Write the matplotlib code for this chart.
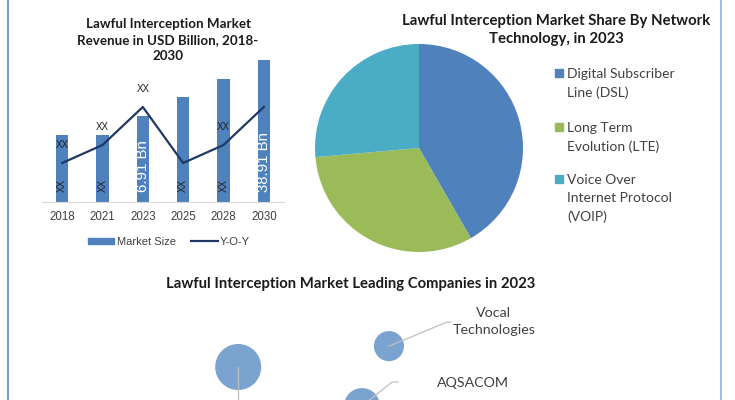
import matplotlib
matplotlib.use("Agg")
import matplotlib.pyplot as plt
from matplotlib.patches import Rectangle
from matplotlib.lines import Line2D

# ---------------- data ----------------
years = ["2018", "2021", "2023", "2025", "2028", "2030"]
market_size = [6.67, 6.67, 8.57, 10.47, 12.27, 14.17]
yoy = [3.87, 5.67, 9.47, 3.87, 5.67, 9.47]
yoy_labels = ["XX", "XX", "XX", "", "XX", ""]
bar_labels = ["XX", "XX", "6.91 Bn", "XX", "XX", "38.91 Bn"]

pie_labels = ["Digital Subscriber\nLine (DSL)", "Long Term\nEvolution (LTE)",
              "Voice Over\nInternet Protocol\n(VOIP)"]
pie_values = [41.7, 31.9, 26.4]

companies = ["", "Vocal\nTechnologies", "AQSACOM"]
bubble_x = [1.96, 5.31, 4.71]
bubble_y = [3.0, 4.9, -0.55]
bubble_size = [1100, 470, 670]

# ---------------- style ----------------
W, H = 735, 400
BAR_C = "#4F81BD"
LINE_C = "#1F3864"
PIE_C = ["#4F81BD", "#9BBB59", "#4BACC6"]
BUB_C = "#7BA3CF"
TXT = "#404040"
TITLE_FONT = ["Lato", "DejaVu Sans"]
BODY_FONT = ["Lato", "DejaVu Sans"]
ARIAL = ["Liberation Sans", "DejaVu Sans"]

fig = plt.figure(figsize=(W / 100, H / 100), dpi=100)
fig.patch.set_facecolor("white")


def px_axes(x0, y0, x1, y1):
    """axes from pixel box (top-left origin)"""
    return fig.add_axes([x0 / W, 1 - y1 / H, (x1 - x0) / W, (y1 - y0) / H])


def fx(x):
    return x / W


def fy(y):
    return 1 - y / H


# border lines
fig.add_artist(Line2D([fx(8), fx(8)], [0, 1], color="#5B8BD0", lw=1.2))
fig.add_artist(Line2D([fx(721), fx(721)], [0, 1], color="#8DB0E0", lw=1.2))

# ---------------- bar chart ----------------
ax = px_axes(42, 41.7, 284, 201.7)
xs = list(range(len(years)))
ax.bar(xs, market_size, width=0.31, color=BAR_C, zorder=2)
ax.plot(xs, yoy, color=LINE_C, lw=1.6, zorder=3)
ax.set_xlim(-0.5, 5.5)
ax.set_ylim(0, 16)
for s in ["top", "right", "left"]:
    ax.spines[s].set_visible(False)
ax.spines["bottom"].set_color("#D9D9D9")
ax.set_yticks([])
ax.set_xticks(xs)
ax.set_xticklabels(years, fontsize=8.3, color=TXT, family=ARIAL)
ax.tick_params(axis="x", length=0, pad=7)

for i, lab in enumerate(yoy_labels):
    if lab:
        ax.annotate(lab, (xs[i], yoy[i]), xytext=(0, 9), textcoords="offset points",
                    ha="center", va="bottom", fontsize=7, color="#222222",
                    family=ARIAL, zorder=4)
for i, lab in enumerate(bar_labels):
    white = lab != "XX"
    ax.annotate(lab, (xs[i], 0), xytext=(0, 7), textcoords="offset points",
                ha="center", va="bottom", rotation=90,
                fontsize=10.8 if white else 7,
                color="white" if white else "#222222", family=ARIAL, zorder=4)

fig.text(fx(168), fy(40), "Lawful Interception Market\nRevenue in USD Billion, 2018-\n2030",
         ha="center", va="center", fontsize=9.6, fontweight="bold",
         family=TITLE_FONT, color="#1a1a1a", linespacing=1.35)

leg_handles = [Rectangle((0, 0), 1, 1, color=BAR_C),
               Line2D([0], [0], color=LINE_C, lw=1.6)]
leg = fig.legend(leg_handles, ["Market Size", "Y-O-Y"], loc="center",
                 bbox_to_anchor=(fx(169), fy(242)), ncol=2, frameon=False,
                 handlelength=2.4, handleheight=0.55, handletextpad=0.2,
                 columnspacing=1.4,
                 prop={"family": ARIAL, "size": 8})
for t in leg.get_texts():
    t.set_color(TXT)

# ---------------- pie chart ----------------
R = 104
pcx, pcy = 419, 148
pax = px_axes(pcx - R, pcy - R, pcx + R, pcy + R)
pax.pie(pie_values, colors=PIE_C, startangle=90, counterclock=False,
        wedgeprops={"linewidth": 0})
pax.set_xlim(-1, 1)
pax.set_ylim(-1, 1)
pax.set_aspect("equal")

fig.text(fx(556), fy(30), "Lawful Interception Market Share By Network\nTechnology, in 2023",
         ha="center", va="center", fontsize=10.7, fontweight="bold",
         family=TITLE_FONT, color="#1a1a1a", linespacing=1.4)

leg_tops = [73, 127, 179]
for lab, col, ty in zip(pie_labels, PIE_C, leg_tops):
    fig.add_artist(Rectangle((fx(555), fy(ty + 4)), 8 / W, 8 / H, color=col,
                             transform=fig.transFigure))
    fig.text(fx(567), fy(ty - 5.5), lab, ha="left", va="top", fontsize=10.0,
             family=BODY_FONT, color=TXT, linespacing=1.62)

# ---------------- bubble chart ----------------
fig.text(fx(351), fy(284), "Lawful Interception Market Leading Companies in 2023",
         ha="center", va="center", fontsize=10.7, fontweight="bold",
         family=TITLE_FONT, color="#1a1a1a")

bax = px_axes(150, 290, 600, 400)
bax.set_xlim(0, 10)
bax.set_ylim(0, 10)
bax.axis("off")
bax.scatter(bubble_x, bubble_y, s=bubble_size, color=BUB_C, linewidths=0,
            zorder=2, clip_on=False)

# leader lines (pixel offsets converted to data units: 45 px/unit x, 11 px/unit y)
def d(px_dx, px_dy):
    return px_dx / 45.0, -px_dy / 11.0

# big bubble: vertical line going down
bax.plot([bubble_x[0], bubble_x[0]], [bubble_y[0], bubble_y[0] - 6],
         color="#BFBFBF", lw=0.9, zorder=3, clip_on=False)
# Vocal Technologies
e1 = d(58, -24)
e2 = d(62, -24)
bax.plot([bubble_x[1], bubble_x[1] + e1[0], bubble_x[1] + e2[0]],
         [bubble_y[1], bubble_y[1] + e1[1], bubble_y[1] + e2[1]],
         color="#BFBFBF", lw=0.9, zorder=3, clip_on=False)
bax.annotate(companies[1], (bubble_x[1], bubble_y[1]), xytext=(105 * 0.72, 24.5 * 0.72),
             textcoords="offset points", ha="center", va="center", fontsize=10.3,
             family=BODY_FONT, color=TXT, linespacing=1.5, annotation_clip=False)
# AQSACOM
e1 = d(30, -24)
e2 = d(36, -24)
bax.plot([bubble_x[2], bubble_x[2] + e1[0], bubble_x[2] + e2[0]],
         [bubble_y[2], bubble_y[2] + e1[1], bubble_y[2] + e2[1]],
         color="#BFBFBF", lw=0.9, zorder=3, clip_on=False)
bax.annotate(companies[2], (bubble_x[2], bubble_y[2]), xytext=(111 * 0.72, 23.5 * 0.72),
             textcoords="offset points", ha="center", va="center", fontsize=10.3,
             family=BODY_FONT, color=TXT, annotation_clip=False)

fig.savefig("out.png", dpi=100, facecolor="white")
